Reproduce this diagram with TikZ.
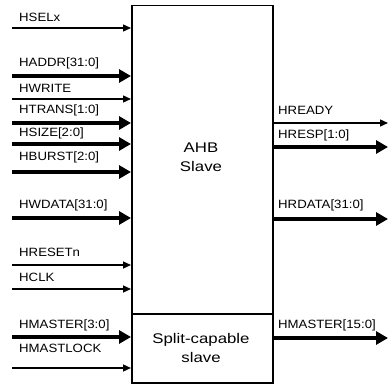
\documentclass[tikz,border=0pt]{standalone}
\usepackage{fontspec}
\setmainfont{Liberation Sans}[FakeStretch=1.1]
\usetikzlibrary{arrows.meta}
\begin{document}
\begin{tikzpicture}[x=1pt,y=-1pt,
  lbl/.style={anchor=west,inner sep=0pt,font=\fontsize{12}{12}\selectfont},
  ctr/.style={align=center,font=\fontsize{14}{19}\addfontfeature{FakeStretch=1.2}\selectfont},
  thinarr/.style={line width=1.3pt,-{Triangle[length=8pt,width=7pt]}},
  thickarr/.style={line width=3.6pt,-{Triangle[length=12pt,width=13pt]}},
  boxst/.style={draw,line width=1.5pt,inner sep=0pt}]
\useasboundingbox (0,0) rectangle (388,385);
\node[boxst,minimum width=141pt,minimum height=308pt,anchor=north west] (ahb) at (131,5) {};
\node[boxst,minimum width=141pt,minimum height=69pt,anchor=north west] (split) at (131,313) {};
\node[ctr] (ahbt) at (201,157) {AHB\\Slave};
\node[ctr] (splitt) at (201,348) {Split-capable\\slave};
% left inputs
\foreach \nm/\ya/\yl/\st/\tx in {
  sel/28/17/thinarr/HSELx,
  addr/76/63/thickarr/HADDR[31:0],
  wr/99/88/thinarr/HWRITE,
  trans/123/110/thickarr/HTRANS[1:0],
  size/144/133/thickarr/HSIZE[2:0],
  burst/172/157/thickarr/HBURST[2:0],
  wdata/218/205/thickarr/HWDATA[31:0],
  rst/265/252/thinarr/HRESETn,
  clk/289/277/thinarr/HCLK}{
  \coordinate (\nm) at (12,\ya);
  \node[lbl] (\nm l) at (19,\yl) {\tx};
  \draw[\st] (\nm) -- (\nm -| ahb.west);
}
\foreach \nm/\ya/\yl/\st/\tx in {
  mst/337/325/thickarr/HMASTER[3:0],
  lock/368/348/thinarr/HMASTLOCK}{
  \coordinate (\nm) at (12,\ya);
  \node[lbl] (\nm l) at (19,\yl) {\tx};
  \draw[\st] (\nm) -- (\nm -| split.west);
}
% right outputs
\foreach \nm/\ya/\yl/\st/\tx in {
  rdy/123/110/thinarr/HREADY,
  resp/147/135/thickarr/HRESP[1:0],
  rdata/219/205/thickarr/HRDATA[31:0]}{
  \coordinate (\nm) at (388,\ya);
  \node[lbl] (\nm l) at (278,\yl) {\tx};
  \draw[\st] (\nm -| ahb.east) -- (\nm);
}
\coordinate (mo) at (388,338);
\node[lbl] (mol) at (278,325) {HMASTER[15:0]};
\draw[thickarr] (mo -| split.east) -- (mo);
\end{tikzpicture}
\end{document}
